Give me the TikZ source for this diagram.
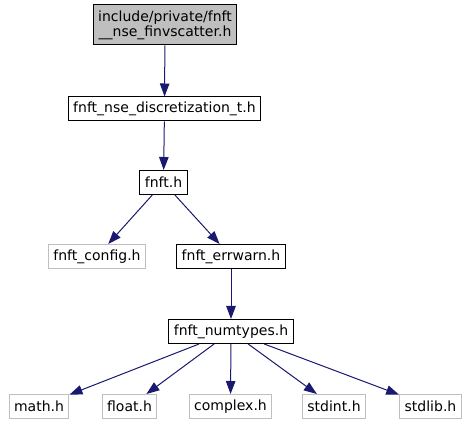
\documentclass[tikz,border=0pt]{standalone}
\usepackage{fontspec}
\setmainfont{DejaVu Sans}
\usepackage{xcolor}
\usetikzlibrary{arrows.meta}
\definecolor{edgeblue}{RGB}{25,25,112}
\definecolor{sysgray}{RGB}{191,191,191}

\begin{document}
\begin{tikzpicture}[x=1pt, y=-1pt, >={Triangle[length=13pt, width=9.5pt]},
  font=\fontsize{14}{15}\selectfont,
  hdr/.style={draw, line width=1pt, fill=white, minimum height=24pt, inner xsep=5pt, inner ysep=2pt},
  sys/.style={hdr, draw=sysgray},
  root/.style={hdr, fill=sysgray, align=center, minimum height=40pt},
  dep/.style={->, color=edgeblue, line width=1pt}]
\useasboundingbox (0,0) rectangle (472,425);
%% include chain
\node[root] (fin) at (165,25) {include/private/fnft\\\_\_nse\_finvscatter.h};
\node[hdr] (disc) at (164.5,109) {fnft\_nse\_discretization\_t.h};
\node[hdr] (fnft) at (163.5,182.5) {fnft.h};
\node[sys] (cfg) at (97,256.5) {fnft\_config.h};
\node[hdr] (err) at (231,256.5) {fnft\_errwarn.h};
\node[hdr] (num) at (231,331.5) {fnft\_numtypes.h};
%% system headers
\node[sys] (math) at (39,406.5) {math.h};
\node[sys] (float) at (129.5,406.5) {float.h};
\node[sys] (cplx) at (230.5,406.5) {complex.h};
\node[sys] (sint) at (334,406.5) {stdint.h};
\node[sys] (slib) at (430.5,406.5) {stdlib.h};
\draw[dep] (fin) -- (disc);
\draw[dep] (disc) -- (fnft);
\draw[dep] (fnft) -- (cfg);
\draw[dep] (fnft) -- (err);
\draw[dep] (err) -- (num);
\draw[dep] (num) -- (math);
\draw[dep] (num) -- (float);
\draw[dep] (num) -- (cplx);
\draw[dep] (num) -- (sint);
\draw[dep] (num) -- (slib);
\end{tikzpicture}
\end{document}
